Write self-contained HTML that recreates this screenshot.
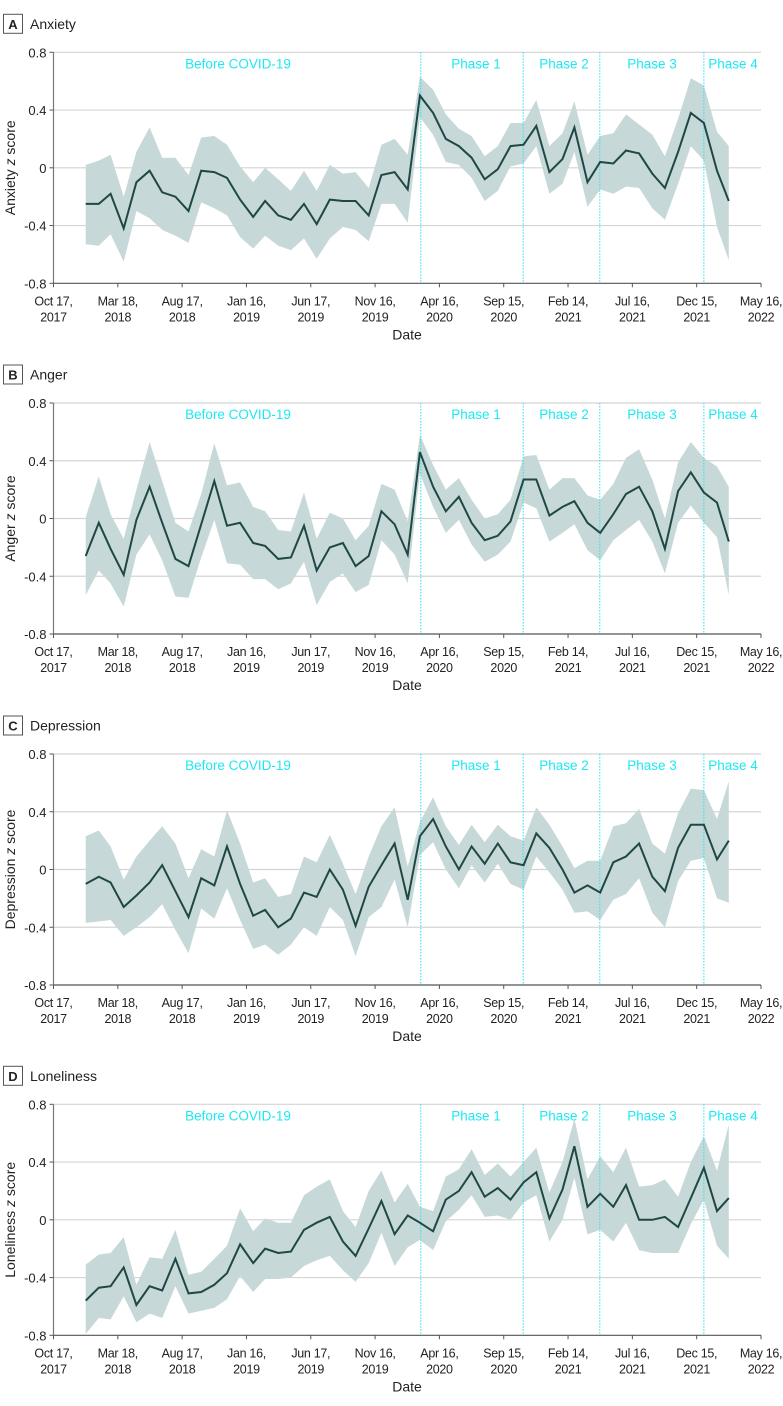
<!DOCTYPE html>
<html><head><meta charset="utf-8"><style>
body{margin:0;background:#fff;}
svg{display:block;font-family:"Liberation Sans",sans-serif;}
</style></head><body>
<svg id="fig" width="783" height="1406" viewBox="0 0 783 1406" xmlns="http://www.w3.org/2000/svg"></svg>
<script>
const tickLabels1 = ["Oct 17,","Mar 18,","Aug 17,","Jan 16,","Jun 17,","Nov 16,","Apr 16,","Sep 15,","Feb 14,","Jul 16,","Dec 15,","May 16,"];
const tickLabels2 = ["2017","2018","2018","2019","2019","2019","2020","2020","2021","2021","2021","2022"];
const tickDates = ["2017-10-17","2018-03-18","2018-08-17","2019-01-16","2019-06-17","2019-11-16","2020-04-16","2020-09-15","2021-02-14","2021-07-16","2021-12-15","2022-05-16"];
const yTicks = [0.8,0.4,0,-0.4,-0.8];
const yTickLabels = ["0.8","0.4","0","-0.4","-0.8"];
const phaseDates = ["2020-03-03","2020-10-31","2021-04-30","2022-01-01"];
const periodLabels = ["Before COVID-19","Phase 1","Phase 2","Phase 3","Phase 4"];
const periodLabelX = [238,476,564,652,733];

const anxietyMean = [-0.25,-0.25,-0.18,-0.42,-0.10,-0.02,-0.17,-0.20,-0.30,-0.02,-0.03,-0.07,-0.22,-0.34,-0.23,-0.33,-0.36,-0.25,-0.39,-0.22,-0.23,-0.23,-0.33,-0.05,-0.03,-0.15,0.50,0.38,0.20,0.15,0.07,-0.08,-0.01,0.15,0.16,0.29,-0.03,0.06,0.28,-0.10,0.04,0.03,0.12,0.10,-0.04,-0.14,0.11,0.38,0.31,-0.02,-0.23];
const anxietyUpper = [0.02,0.05,0.09,-0.20,0.11,0.28,0.07,0.07,-0.05,0.21,0.22,0.16,0.01,-0.10,0.00,-0.08,-0.16,-0.02,-0.16,0.02,-0.04,-0.03,-0.14,0.16,0.20,0.09,0.63,0.54,0.37,0.27,0.22,0.08,0.15,0.31,0.31,0.47,0.15,0.24,0.46,0.09,0.22,0.24,0.37,0.30,0.23,0.08,0.34,0.62,0.57,0.25,0.15];
const anxietyLower = [-0.53,-0.54,-0.46,-0.65,-0.30,-0.35,-0.43,-0.47,-0.52,-0.24,-0.28,-0.33,-0.48,-0.56,-0.47,-0.54,-0.57,-0.49,-0.63,-0.49,-0.41,-0.43,-0.51,-0.25,-0.25,-0.38,0.35,0.23,0.04,0.02,-0.07,-0.23,-0.16,0.01,0.03,0.15,-0.18,-0.11,0.11,-0.27,-0.15,-0.18,-0.13,-0.14,-0.28,-0.36,-0.11,0.15,0.05,-0.41,-0.64];

const angerMean = [-0.26,-0.03,-0.21,-0.39,-0.01,0.22,-0.03,-0.28,-0.33,-0.04,0.26,-0.05,-0.03,-0.17,-0.19,-0.28,-0.27,-0.05,-0.36,-0.20,-0.17,-0.33,-0.26,0.05,-0.04,-0.25,0.46,0.22,0.05,0.15,-0.03,-0.15,-0.12,-0.02,0.27,0.27,0.02,0.08,0.12,-0.03,-0.10,0.03,0.17,0.22,0.05,-0.21,0.19,0.32,0.18,0.11,-0.16];
const angerUpper = [0.01,0.29,0.03,-0.14,0.20,0.53,0.26,-0.03,-0.09,0.17,0.52,0.23,0.25,0.08,0.05,-0.08,-0.09,0.18,-0.14,0.04,0.00,-0.15,-0.05,0.24,0.20,-0.02,0.58,0.37,0.20,0.28,0.13,0.00,0.03,0.13,0.43,0.44,0.20,0.28,0.28,0.16,0.13,0.24,0.42,0.48,0.27,0.00,0.39,0.53,0.42,0.36,0.22];
const angerLower = [-0.53,-0.36,-0.45,-0.61,-0.25,-0.11,-0.29,-0.54,-0.55,-0.27,-0.01,-0.31,-0.32,-0.42,-0.42,-0.49,-0.45,-0.30,-0.60,-0.44,-0.38,-0.51,-0.46,-0.15,-0.25,-0.45,0.31,0.08,-0.10,-0.01,-0.18,-0.30,-0.25,-0.16,0.11,0.07,-0.16,-0.10,-0.04,-0.22,-0.29,-0.15,-0.08,-0.01,-0.16,-0.38,-0.03,0.09,-0.03,-0.13,-0.53];

const depressionMean = [-0.10,-0.05,-0.09,-0.26,-0.18,-0.09,0.03,-0.15,-0.33,-0.06,-0.11,0.16,-0.10,-0.32,-0.28,-0.40,-0.34,-0.16,-0.19,0.00,-0.14,-0.39,-0.12,0.03,0.18,-0.21,0.23,0.35,0.16,0.00,0.16,0.04,0.18,0.05,0.03,0.25,0.15,0.00,-0.16,-0.11,-0.16,0.05,0.09,0.18,-0.05,-0.15,0.15,0.31,0.31,0.07,0.20];
const depressionUpper = [0.23,0.27,0.16,-0.07,0.09,0.20,0.30,0.18,-0.06,0.14,0.09,0.41,0.18,-0.09,-0.06,-0.19,-0.17,0.09,0.05,0.24,0.04,-0.17,0.09,0.30,0.43,0.02,0.33,0.50,0.30,0.17,0.31,0.19,0.31,0.23,0.20,0.43,0.31,0.16,0.01,0.06,0.06,0.30,0.32,0.42,0.18,0.11,0.39,0.56,0.55,0.35,0.61];
const depressionLower = [-0.37,-0.36,-0.35,-0.46,-0.40,-0.33,-0.24,-0.42,-0.58,-0.27,-0.34,-0.13,-0.35,-0.55,-0.52,-0.59,-0.52,-0.40,-0.46,-0.26,-0.35,-0.60,-0.33,-0.26,-0.07,-0.40,0.10,0.19,0.00,-0.13,0.03,-0.09,0.04,-0.10,-0.14,0.09,-0.02,-0.14,-0.30,-0.29,-0.35,-0.21,-0.17,-0.06,-0.30,-0.40,-0.08,0.06,0.08,-0.20,-0.23];

const lonelinessMean = [-0.56,-0.47,-0.46,-0.33,-0.59,-0.46,-0.49,-0.27,-0.51,-0.50,-0.45,-0.37,-0.17,-0.30,-0.20,-0.23,-0.22,-0.07,-0.02,0.02,-0.15,-0.25,-0.06,0.13,-0.10,0.03,-0.02,-0.08,0.14,0.20,0.33,0.16,0.22,0.14,0.26,0.33,0.01,0.21,0.51,0.09,0.18,0.09,0.24,0.00,0.00,0.02,-0.05,0.15,0.36,0.06,0.15];
const lonelinessUpper = [-0.31,-0.24,-0.23,-0.12,-0.45,-0.26,-0.27,-0.07,-0.38,-0.36,-0.27,-0.18,0.08,-0.08,0.01,-0.02,-0.02,0.17,0.23,0.28,0.06,-0.05,0.20,0.34,0.12,0.25,0.09,0.06,0.30,0.35,0.49,0.31,0.39,0.30,0.40,0.50,0.19,0.40,0.70,0.28,0.44,0.33,0.50,0.23,0.24,0.28,0.16,0.40,0.58,0.34,0.66];
const lonelinessLower = [-0.79,-0.68,-0.69,-0.53,-0.71,-0.65,-0.68,-0.46,-0.65,-0.63,-0.61,-0.55,-0.39,-0.50,-0.41,-0.41,-0.40,-0.32,-0.28,-0.25,-0.35,-0.43,-0.30,-0.09,-0.32,-0.19,-0.14,-0.21,-0.01,0.07,0.17,0.02,0.03,0.00,0.12,0.17,-0.15,0.00,0.29,-0.10,-0.07,-0.15,-0.02,-0.21,-0.23,-0.23,-0.23,-0.03,0.14,-0.18,-0.27];

const panels = [
  {letter:"A", title:"Anxiety", yLabel:"Anxiety", mean:anxietyMean, upper:anxietyUpper, lower:anxietyLower, top:52.3},
  {letter:"B", title:"Anger", yLabel:"Anger", mean:angerMean, upper:angerUpper, lower:angerLower, top:403},
  {letter:"C", title:"Depression", yLabel:"Depression", mean:depressionMean, upper:depressionUpper, lower:depressionLower, top:754},
  {letter:"D", title:"Loneliness", yLabel:"Loneliness", mean:lonelinessMean, upper:lonelinessUpper, lower:lonelinessLower, top:1104.3}
];

const NS = "http://www.w3.org/2000/svg";
const svg = document.getElementById("fig");
const X0 = 53.5, X1 = 761, H = 231;
const D0 = Date.UTC(2017,9,17), D1 = Date.UTC(2022,4,16);
function xDate(t){ return X0 + (t - D0)/(D1 - D0)*(X1 - X0); }
function xIdx(i){ return xDate(Date.UTC(2018, i, 1)); }
function parseD(s){ const p=s.split("-"); return Date.UTC(+p[0], +p[1]-1, +p[2]); }
function mk(tag, attrs, parent){
  const e = document.createElementNS(NS, tag);
  for (const k in attrs) e.setAttribute(k, attrs[k]);
  (parent||svg).appendChild(e);
  return e;
}

panels.forEach(function(p){
  const yS = v => p.top + (0.8 - v)/1.6*H;
  const g = mk("g", {});
  
  
  const bx = mk("rect", {x:3.5, y:p.top-38, width:19, height:19, fill:"#fff", stroke:"#555", "stroke-width":1}, g);
  
  
  const lt = mk("text", {x:13, y:p.top-23.5, "text-anchor":"middle", "font-size":13, "font-weight":"bold", fill:"#222"}, g);
  lt.textContent = p.letter;
  
  
  const tt = mk("text", {x:30, y:p.top-23.5, "font-size":14, fill:"#222"}, g);
  tt.textContent = p.title;
  
  
  yTicks.forEach(function(v, k){
    const y = yS(v);
    if (k < yTicks.length-1) {
      const gl = mk("line", {x1:X0, x2:X1, y1:y, y2:y, stroke:"#d4d4d4", "stroke-width":1.2}, g);
      
      
    }
    mk("line", {x1:X0-4, x2:X0, y1:y, y2:y, stroke:"#555", "stroke-width":1}, g);
    const tl = mk("text", {x:X0-7, y:y+5, "text-anchor":"end", "font-size":13, fill:"#222"}, g);
    tl.textContent = yTickLabels[k];
    
    
  });
  let d = "";
  p.upper.forEach((v,i)=>{ d += (i? "L":"M") + xIdx(i).toFixed(1) + "," + yS(v).toFixed(1); });
  for (let i=p.lower.length-1;i>=0;i--) d += "L" + xIdx(i).toFixed(1) + "," + yS(p.lower[i]).toFixed(1);
  const band = mk("path", {d:d+"Z", fill:"#c6d9d8", stroke:"none"}, g);
  
  
  phaseDates.forEach(function(s){
    const x = xDate(parseD(s));
    const pl = mk("line", {x1:x, x2:x, y1:yS(0.8), y2:yS(-0.8), stroke:"#22e3ee", "stroke-width":1, "stroke-dasharray":"1.5,1.5"}, g);
    
    
  });
  let dl = "";
  p.mean.forEach((v,i)=>{ dl += (i? "L":"M") + xIdx(i).toFixed(1) + "," + yS(v).toFixed(1); });
  const ml = mk("path", {d:dl, fill:"none", stroke:"#1f4845", "stroke-width":2, "stroke-linejoin":"miter"}, g);
  
  
  const ya = mk("line", {x1:X0, x2:X0, y1:yS(0.8), y2:yS(-0.8), stroke:"#777", "stroke-width":1.2}, g);
  
  
  const xa = mk("line", {x1:X0, x2:X1, y1:yS(-0.8), y2:yS(-0.8), stroke:"#555", "stroke-width":1.2}, g);
  
  
  tickDates.forEach(function(s, k){
    const x = xDate(parseD(s)), y = yS(-0.8);
    mk("line", {x1:x, x2:x, y1:y, y2:y+4, stroke:"#555", "stroke-width":1}, g);
    const t1 = mk("text", {x:x, y:y+22, "text-anchor":"middle", "font-size":12.5, "letter-spacing":"-0.3", fill:"#222"}, g);
    t1.textContent = tickLabels1[k];
    
    
    const t2 = mk("text", {x:x, y:y+38, "text-anchor":"middle", "font-size":12.5, "letter-spacing":"-0.3", fill:"#222"}, g);
    t2.textContent = tickLabels2[k];
    
    
  });
  const xt = mk("text", {x:407, y:yS(-0.8)+56, "text-anchor":"middle", "font-size":14, fill:"#222"}, g);
  xt.textContent = "Date";
  
  
  const yt = mk("text", {x:0, y:0, "text-anchor":"middle", "font-size":14, fill:"#222", transform:"translate(15," + yS(0) + ") rotate(-90)"}, g);
  yt.textContent = p.yLabel + " ";
  const zz = mk("tspan", {"font-style":"italic"}, yt);
  zz.textContent = "z";
  yt.appendChild(document.createTextNode(" score"));
  
  
  periodLabels.forEach(function(s, k){
    const pt = mk("text", {x:periodLabelX[k], y:yS(0.8)+16, "text-anchor":"middle", "font-size":13.5, fill:"#1ee8f2"}, g);
    pt.textContent = s;
    
    
  });
});
</script>
</body></html>
